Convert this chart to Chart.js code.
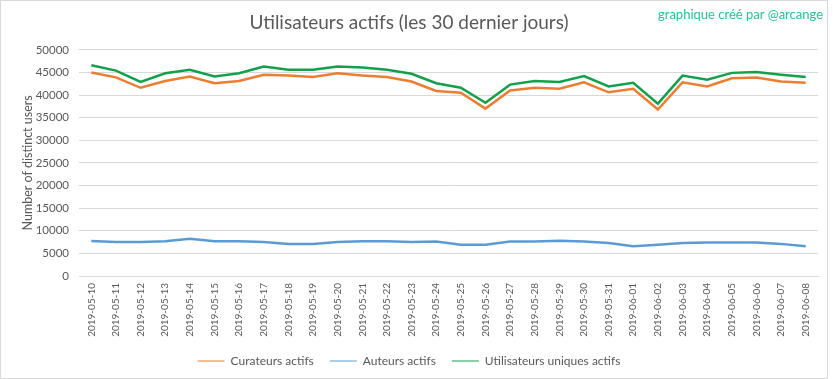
<!DOCTYPE html>
<html>
<head>
<meta charset="utf-8">
<script src="https://cdn.jsdelivr.net/npm/chart.js@4"></script>
<style>
    body { margin: 0; background: #fff; }
    #wrap { position: relative; width: 833px; height: 379px; }
    #frame { position: absolute; left: 0; top: 0; width: 826px; height: 377px; border: 1px solid #d9d9d9; pointer-events: none; }
</style>
</head>
<body>
<div id="wrap">
    <canvas id="users-chart" width="833" height="379"></canvas>
    <div id="frame"></div>
</div>
<script>
const dates = ['2019-05-10', '2019-05-11', '2019-05-12', '2019-05-13', '2019-05-14', '2019-05-15',
    '2019-05-16', '2019-05-17', '2019-05-18', '2019-05-19', '2019-05-20', '2019-05-21',
    '2019-05-22', '2019-05-23', '2019-05-24', '2019-05-25', '2019-05-26', '2019-05-27',
    '2019-05-28', '2019-05-29', '2019-05-30', '2019-05-31', '2019-06-01', '2019-06-02',
    '2019-06-03', '2019-06-04', '2019-06-05', '2019-06-06', '2019-06-07', '2019-06-08'];

const curateurs = [45000, 43900, 41600, 43100, 44100, 42600, 43100, 44500, 44300, 44000,
    44800, 44300, 44000, 43000, 40900, 40500, 37000, 41000, 41600, 41400,
    42800, 40600, 41400, 36800, 42800, 41900, 43700, 43900, 43000, 42700];

const auteurs = [7750, 7500, 7500, 7700, 8250, 7700, 7700, 7500, 7100, 7100,
    7500, 7700, 7700, 7500, 7600, 6900, 6900, 7600, 7600, 7800,
    7600, 7300, 6600, 6900, 7300, 7400, 7400, 7400, 7100, 6600];

const uniques = [46600, 45400, 42900, 44800, 45600, 44100, 44800, 46300, 45600, 45600,
    46300, 46100, 45600, 44700, 42600, 41600, 38300, 42300, 43100, 42900,
    44200, 41900, 42700, 38100, 44300, 43400, 44900, 45100, 44500, 44000];

const yTicks = [0, 5000, 10000, 15000, 20000, 25000, 30000, 35000, 40000, 45000, 50000];

const textGray = '#595959';
const gridGray = '#d9d9d9';
const baseFont = 'Lato, "Open Sans", sans-serif';

const credit = {
    id: 'credit',
    afterDraw(chart) {
        const ctx = chart.ctx;
        ctx.save();
        ctx.font = '13px ' + baseFont;
        ctx.fillStyle = '#22c39a';
        ctx.textAlign = 'right';
        ctx.textBaseline = 'middle';
        ctx.fillText('graphique créé par @arcange', 823, 15);
        ctx.restore();
    }
};

const ctx = document.getElementById('users-chart').getContext('2d');

new Chart(ctx, {
    type: 'line',
    data: {
        labels: dates,
        datasets: [
            { label: 'Curateurs actifs', data: curateurs, borderColor: '#ed7d31', backgroundColor: '#ed7d31' },
            { label: 'Auteurs actifs', data: auteurs, borderColor: '#5b9bd5', backgroundColor: '#5b9bd5' },
            { label: 'Utilisateurs uniques actifs', data: uniques, borderColor: '#12a14a', backgroundColor: '#12a14a' }
        ]
    },
    options: {
        responsive: false,
        animation: false,
        events: [],
        elements: {
            line: { borderWidth: 2.5, tension: 0 },
            point: { radius: 0 }
        },
        layout: { padding: { left: 0, right: 15, top: 0, bottom: 2 } },
        plugins: {
            title: {
                display: true,
                text: 'Utilisateurs actifs (les 30 dernier jours)',
                color: textGray,
                font: { family: baseFont, size: 19, weight: 'normal' },
                padding: { top: 11, bottom: 16 }
            },
            legend: {
                position: 'bottom',
                labels: {
                    usePointStyle: true,
                    pointStyle: 'line',
                    pointStyleWidth: 27,
                    color: textGray,
                    padding: 16,
                    font: { family: baseFont, size: 12 }
                }
            },
            tooltip: { enabled: false }
        },
        scales: {
            x: {
                offset: true,
                grid: { display: false, drawTicks: false },
                border: { color: gridGray },
                ticks: {
                    autoSkip: false,
                    minRotation: 90,
                    maxRotation: 90,
                    padding: 7,
                    color: textGray,
                    font: { family: baseFont, size: 10 }
                },
                afterFit: scale => { scale.height = 63; }
            },
            y: {
                min: 0,
                max: 50000,
                afterBuildTicks: scale => { scale.ticks = yTicks.map(v => ({ value: v })); },
                grid: { color: gridGray, drawTicks: false },
                border: { display: false },
                ticks: {
                    padding: 10,
                    color: textGray,
                    font: { family: baseFont, size: 11.5 },
                    callback: v => String(v)
                },
                title: {
                    display: true,
                    text: 'Number of distinct users',
                    color: textGray,
                    font: { family: baseFont, size: 12.5 },
                    padding: { top: 20, bottom: 0 }
                },
                afterFit: scale => { scale.width = 79; }
            }
        }
    },
    plugins: [credit]
});
</script>
</body>
</html>
